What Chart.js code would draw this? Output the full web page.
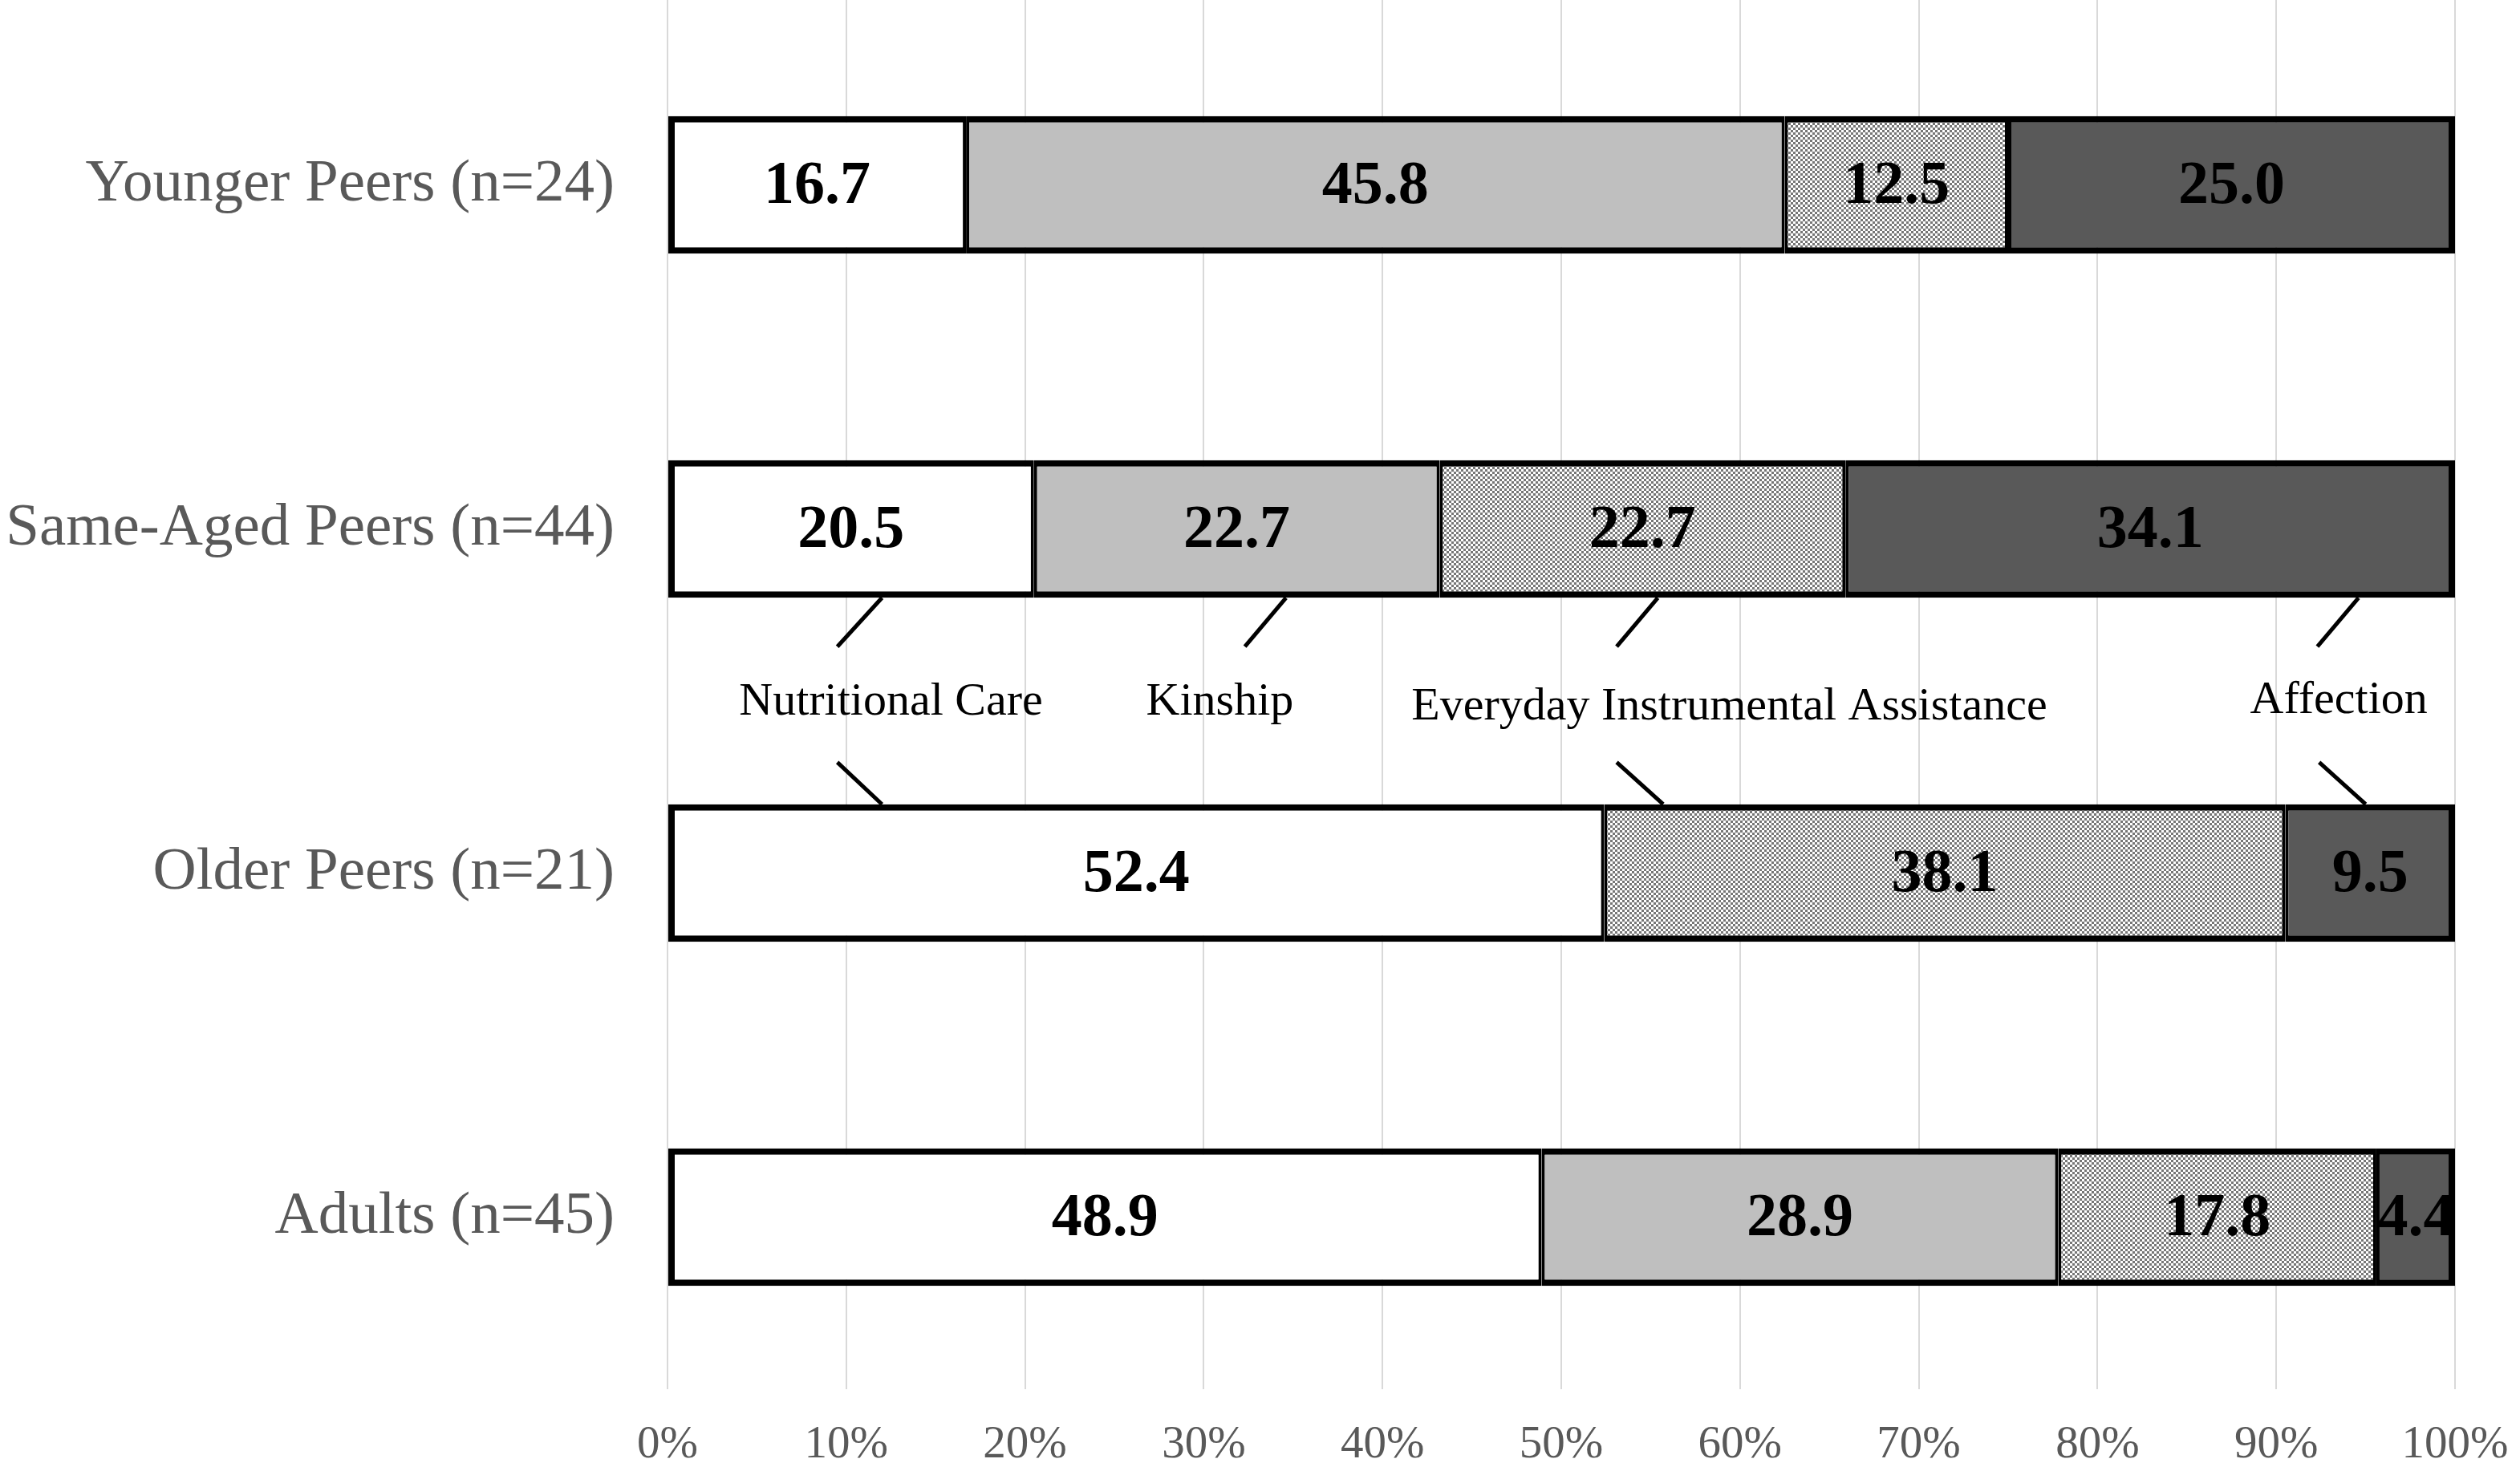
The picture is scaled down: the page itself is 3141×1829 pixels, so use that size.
<!DOCTYPE html>
<html>
<head>
<meta charset="utf-8">
<script src="https://cdn.jsdelivr.net/npm/chart.js@4/dist/chart.umd.min.js"></script>
<style>
  html, body { margin: 0; padding: 0; background: #fff; }
  #wrap { width: 3141px; height: 1829px; }
</style>
</head>
<body>
<div id="wrap"><canvas id="chart" width="3141" height="1829"></canvas></div>
<script>
// Datos del gráfico
const groups = ['Younger Peers (n=24)', 'Same-Aged Peers (n=44)', 'Older Peers (n=21)', 'Adults (n=45)'];
const seriesNames = ['Nutritional Care', 'Kinship', 'Everyday Instrumental Assistance', 'Affection'];
const nutritionalCare = [16.7, 20.5, 52.4, 48.9];
const kinship = [45.8, 22.7, 0, 28.9];
const everydayAssistance = [12.5, 22.7, 38.1, 17.8];
const affection = [25.0, 34.1, 9.5, 4.4];
const xTicks = [0, 10, 20, 30, 40, 50, 60, 70, 80, 90, 100];

// Etiquetas tipo "callout" (en unidades de las escalas)
const calloutX = [12.5, 30.9, 59.4, 93.5];
const calloutY = [1.505, 1.505, 1.518, 1.5];
const upperLineFromX = [12.0, 34.6, 55.4, 94.6];
const upperLineToX = [9.5, 32.3, 53.1, 92.3];
const lowerLineFromX = [9.5, null, 53.1, 92.4];
const lowerLineToX = [12.0, null, 55.7, 95.0];

const SERIF = '"Liberation Serif", "Times New Roman", serif';

// Trama de puntos para "Everyday Instrumental Assistance"
function makePattern() {
    const tile = document.createElement('canvas');
    tile.width = 6;
    tile.height = 6;
    const t = tile.getContext('2d');
    t.fillStyle = '#ffffff';
    t.fillRect(0, 0, 6, 6);
    t.fillStyle = '#767676';
    t.fillRect(0, 0, 3, 3);
    t.fillRect(3, 3, 3, 3);
    return document.getElementById('chart').getContext('2d').createPattern(tile, 'repeat');
}

const seriesValues = [nutritionalCare, kinship, everydayAssistance, affection];
const fills = ['#ffffff', '#bfbfbf', makePattern(), '#595959'];

// Bordes: exteriores completos, interiores a la mitad para que no se dupliquen
function borderFor(ctx) {
    const i = ctx.dataIndex;
    const d = ctx.datasetIndex;
    const v = seriesValues[d][i];
    if (!v) return 0;
    const nonZero = seriesValues.map((s, k) => s[i] ? k : -1).filter(k => k >= 0);
    const first = nonZero[0];
    const last = nonZero[nonZero.length - 1];
    return {
        top: 8,
        bottom: 8,
        left: d === first ? 8 : 4,
        right: d === last ? 8 : 4
    };
}

const datasets = seriesNames.map((name, k) => ({
    label: name,
    data: seriesValues[k],
    backgroundColor: fills[k],
    borderColor: '#000000',
    borderWidth: borderFor,
    borderSkipped: false,
    inflateAmount: 0,
    barPercentage: 0.4,
    categoryPercentage: 1.0
}));

// Etiquetas de valores dentro de cada segmento
const valueLabels = {
    id: 'valueLabels',
    afterDatasetsDraw(chart) {
        const ctx = chart.ctx;
        ctx.save();
        ctx.font = 'bold 76px ' + SERIF;
        ctx.fillStyle = '#000000';
        ctx.textAlign = 'center';
        ctx.textBaseline = 'middle';
        chart.data.datasets.forEach((ds, k) => {
            const meta = chart.getDatasetMeta(k);
            meta.data.forEach((bar, i) => {
                const v = ds.data[i];
                if (!v) return;
                const p = bar.getCenterPoint();
                ctx.fillText(v.toFixed(1), p.x, p.y + 3);
            });
        });
        ctx.restore();
    }
};

// Textos y líneas guía entre las barras
const callouts = {
    id: 'callouts',
    afterDatasetsDraw(chart) {
        const ctx = chart.ctx;
        const xs = chart.scales.x;
        const ys = chart.scales.y;
        ctx.save();
        ctx.strokeStyle = '#000000';
        ctx.lineWidth = 5;
        seriesNames.forEach((name, k) => {
            ctx.beginPath();
            ctx.moveTo(xs.getPixelForValue(upperLineFromX[k]), ys.getPixelForValue(1.2));
            ctx.lineTo(xs.getPixelForValue(upperLineToX[k]), ys.getPixelForValue(1.342));
            if (lowerLineFromX[k] !== null) {
                ctx.moveTo(xs.getPixelForValue(lowerLineFromX[k]), ys.getPixelForValue(1.678));
                ctx.lineTo(xs.getPixelForValue(lowerLineToX[k]), ys.getPixelForValue(1.8));
            }
            ctx.stroke();
        });
        ctx.font = '58px ' + SERIF;
        ctx.fillStyle = '#000000';
        ctx.textAlign = 'center';
        ctx.textBaseline = 'middle';
        seriesNames.forEach((name, k) => {
            ctx.fillText(name, xs.getPixelForValue(calloutX[k]), ys.getPixelForValue(calloutY[k]));
        });
        ctx.restore();
    }
};

// Prolonga la cuadrícula vertical hasta el borde superior
const gridToTop = {
    id: 'gridToTop',
    beforeDatasetsDraw(chart) {
        const ctx = chart.ctx;
        const xs = chart.scales.x;
        ctx.save();
        ctx.strokeStyle = '#d9d9d9';
        ctx.lineWidth = 2;
        xTicks.forEach(t => {
            const px = Math.round(xs.getPixelForValue(t));
            ctx.beginPath();
            ctx.moveTo(px, 0);
            ctx.lineTo(px, chart.chartArea.top);
            ctx.stroke();
        });
        ctx.restore();
    }
};

new Chart(document.getElementById('chart'), {
    type: 'bar',
    data: { labels: groups, datasets: datasets },
    plugins: [gridToTop, valueLabels, callouts],
    options: {
        indexAxis: 'y',
        responsive: false,
        devicePixelRatio: 1,
        animation: false,
        layout: { padding: { top: 16, right: 81, bottom: 0, left: 0 } },
        plugins: {
            legend: { display: false },
            tooltip: { enabled: false }
        },
        scales: {
            x: {
                stacked: true,
                min: 0,
                max: 100,
                afterBuildTicks: (scale) => { scale.ticks = xTicks.map(v => ({ value: v })); },
                afterFit: (scale) => {
                    scale.height = 97;
                    scale.paddingLeft = 0;
                    scale.paddingRight = 0;
                },
                ticks: {
                    callback: (v) => v + '%',
                    font: { family: SERIF, size: 57 },
                    color: '#595959',
                    padding: 36,
                    maxRotation: 0
                },
                grid: { color: '#d9d9d9', lineWidth: 2, drawTicks: false },
                border: { display: false }
            },
            y: {
                stacked: true,
                afterFit: (scale) => {
                    scale.width = 832;
                    scale.paddingTop = 0;
                    scale.paddingBottom = 0;
                },
                ticks: {
                    font: { family: SERIF, size: 75 },
                    color: '#595959',
                    padding: 66
                },
                grid: { display: false, drawTicks: false },
                border: { display: false }
            }
        }
    }
});
</script>
</body>
</html>
